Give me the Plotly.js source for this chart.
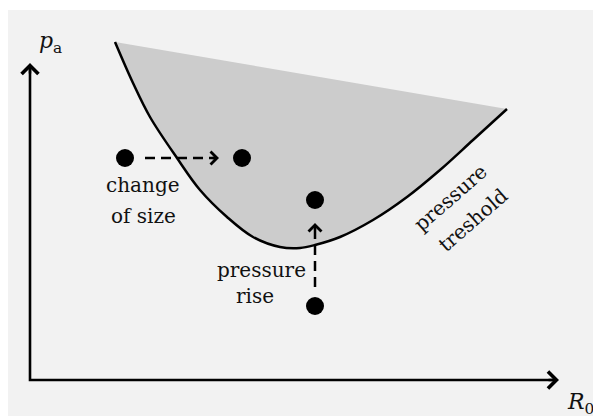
<!DOCTYPE html>
<html>
<head>
<meta charset="utf-8">
<script src="https://cdn.plot.ly/plotly-3.0.1.min.js"></script>
<style>
  html, body { margin: 0; padding: 0; background: #ffffff; }
  #chart { width: 593px; height: 416px; }
</style>
</head>
<body>
<div id="chart"></div>
<script>
// Schematic data (origin at the axes corner)
const thresholdX = [85, 103, 120, 147, 170, 197, 223, 250, 270, 285, 310, 343, 377, 410, 443, 477];
const thresholdY = [338, 297, 263, 222, 190, 163, 143, 133, 132, 135, 143, 160, 183, 210, 240, 271];

const axisX = [0, 0, 527];
const axisY = [315, 0, 0];
const axisTipX = [529, 0];
const axisTipY = [0, 317];

const dotX = [95, 212, 285, 285];
const dotY = [222, 222, 180, 74];

const sizeArrowX = [115, 187];
const sizeArrowY = [222, 222];
const riseArrowX = [285, 285];
const riseArrowY = [93, 155];
const sizeTip = [189, 222];
const riseTip = [285, 157];

const labelText = ['change', 'of size', 'pressure', 'rise'];
const labelX = [113, 113, 231.5, 225];
const labelY = [195, 164, 110, 84];

const rotText = ['pressure', 'treshold'];
const rotX = [420, 443];
const rotY = [182, 160];

const FONT = 'DejaVu Serif';
const FS = 20;

const traces = [
  { x: thresholdX, y: thresholdY, mode: 'lines', line: { color: '#000', width: 2.5, shape: 'spline' },
    fill: 'toself', fillcolor: '#cccccc', hoverinfo: 'skip', showlegend: false },
  { x: axisX, y: axisY, mode: 'lines', line: { color: '#000', width: 2.6 }, hoverinfo: 'skip', showlegend: false },
  { x: sizeArrowX, y: sizeArrowY, mode: 'lines', line: { color: '#000', width: 2.5, dash: '10px,6px' }, hoverinfo: 'skip', showlegend: false },
  { x: riseArrowX, y: riseArrowY, mode: 'lines', line: { color: '#000', width: 2.5, dash: '10px,6px' }, hoverinfo: 'skip', showlegend: false },
  { x: dotX, y: dotY, mode: 'markers', marker: { color: '#000', size: 18 }, hoverinfo: 'skip', showlegend: false }
];

const ann = [];
ann.push({ x: axisTipX[0], y: axisTipY[0], ax: axisTipX[0] - 12, ay: axisTipY[0], xref: 'x', yref: 'y', axref: 'x', ayref: 'y',
  text: '', showarrow: true, arrowhead: 4, arrowsize: 1.3, arrowwidth: 2.5, arrowcolor: '#000', standoff: 0 });
ann.push({ x: axisTipX[1], y: axisTipY[1], ax: axisTipX[1], ay: axisTipY[1] - 12, xref: 'x', yref: 'y', axref: 'x', ayref: 'y',
  text: '', showarrow: true, arrowhead: 4, arrowsize: 1.3, arrowwidth: 2.5, arrowcolor: '#000', standoff: 0 });
ann.push({ x: sizeTip[0], y: sizeTip[1], ax: sizeTip[0] - 8, ay: sizeTip[1], xref: 'x', yref: 'y', axref: 'x', ayref: 'y',
  text: '', showarrow: true, arrowhead: 4, arrowsize: 1.0, arrowwidth: 2.5, arrowcolor: '#000', standoff: 0 });
ann.push({ x: riseTip[0], y: riseTip[1], ax: riseTip[0], ay: riseTip[1] - 8, xref: 'x', yref: 'y', axref: 'x', ayref: 'y',
  text: '', showarrow: true, arrowhead: 4, arrowsize: 1.0, arrowwidth: 2.5, arrowcolor: '#000', standoff: 0 });

for (let i = 0; i < labelText.length; i++) {
  ann.push({ x: labelX[i], y: labelY[i], xref: 'x', yref: 'y', text: labelText[i], showarrow: false,
    xanchor: 'center', yanchor: 'middle', font: { family: FONT, size: FS, color: '#111' } });
}
for (let i = 0; i < rotText.length; i++) {
  ann.push({ x: rotX[i], y: rotY[i], xref: 'x', yref: 'y', text: rotText[i], showarrow: false, textangle: -41,
    xanchor: 'center', yanchor: 'middle', font: { family: FONT, size: FS, color: '#111' } });
}
ann.push({ x: 7, y: 338, xref: 'x', yref: 'y', text: '<i>p</i><sub>a</sub>', showarrow: false,
  xanchor: 'left', yanchor: 'middle', font: { family: FONT, size: 22, color: '#111' } });
ann.push({ x: 535, y: -23, xref: 'x', yref: 'y', text: '<i>R</i><sub>0</sub>', showarrow: false,
  xanchor: 'left', yanchor: 'middle', font: { family: FONT, size: 22, color: '#111' } });

const layout = {
  width: 593, height: 416,
  font: { family: FONT },
  margin: { l: 0, r: 0, t: 0, b: 0, pad: 0 },
  paper_bgcolor: '#ffffff', plot_bgcolor: 'rgba(0,0,0,0)',
  xaxis: { range: [-30, 563], visible: false, fixedrange: true },
  yaxis: { range: [-36, 380], visible: false, fixedrange: true },
  shapes: [{ type: 'rect', xref: 'paper', yref: 'paper', x0: 8 / 593, x1: 1, y0: 0, y1: 1 - 10 / 416,
    fillcolor: '#f2f2f2', line: { width: 0 }, layer: 'below' }],
  annotations: ann,
  showlegend: false
};

Plotly.newPlot('chart', traces, layout, { staticPlot: true, displayModeBar: false });
</script>
</body>
</html>
